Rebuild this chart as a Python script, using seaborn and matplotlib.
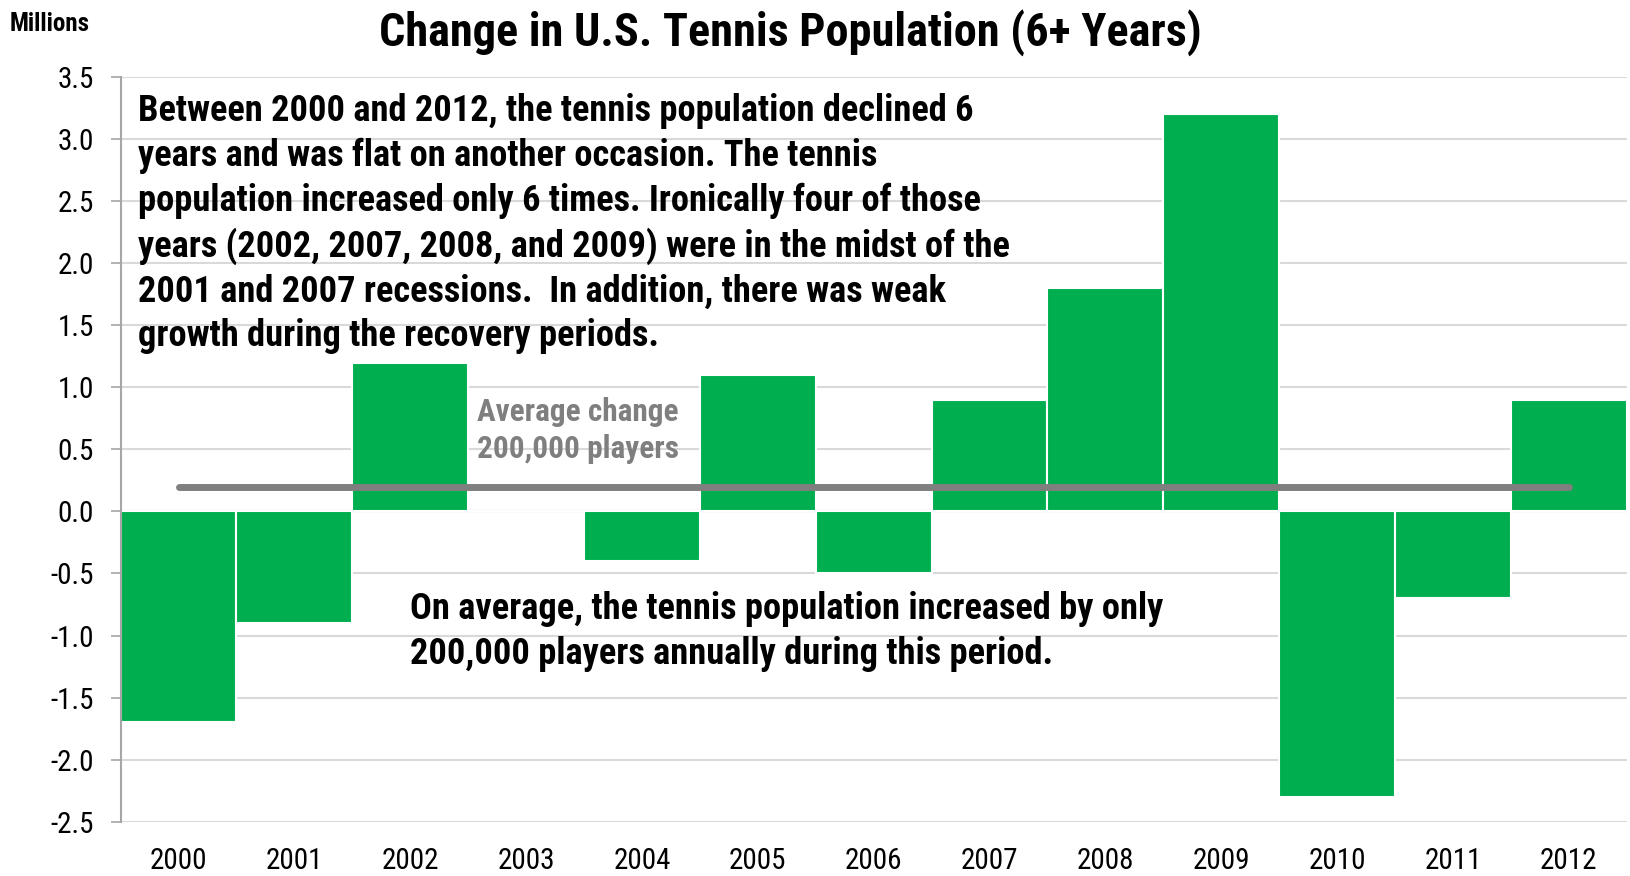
import matplotlib
matplotlib.use('Agg')
import matplotlib.pyplot as plt
import seaborn as sns
import pandas as pd

# ── Data ───────────────────────────────────────────────────────────────────────
years   = ["2000", "2001", "2002", "2003", "2004", "2005", "2006",
           "2007", "2008", "2009", "2010", "2011", "2012"]
changes = [-1.7, -0.9, 1.2, 0.0, -0.4, 1.1, -0.5, 0.9, 1.8, 3.2, -2.3, -0.7, 0.9]
avg_change = 0.2
y_ticks = [3.5, 3.0, 2.5, 2.0, 1.5, 1.0, 0.5, 0.0, -0.5, -1.0, -1.5, -2.0, -2.5]

title = "Change in U.S. Tennis Population (6+ Years)"
note_top = ("Between 2000 and 2012, the tennis population declined 6\n"
            "years and was flat on another occasion. The tennis\n"
            "population increased only 6 times. Ironically four of those\n"
            "years (2002, 2007, 2008, and 2009) were in the midst of the\n"
            "2001 and 2007 recessions.  In addition, there was weak\n"
            "growth during the recovery periods.")
note_bottom = ("On average, the tennis population increased by only\n"
               "200,000 players annually during this period.")
avg_label = "Average change\n200,000 players"

df = pd.DataFrame({"year": years, "change": changes})

# ── Style ──────────────────────────────────────────────────────────────────────
sns.set_style("white")
plt.rcParams['font.family'] = ['Roboto Condensed', 'Liberation Sans', 'DejaVu Sans']
plt.rcParams['text.color'] = 'black'
plt.rcParams['xtick.color'] = 'black'
plt.rcParams['ytick.color'] = 'black'

GREEN = "#00AE4F"
GREY  = "#7F7F7F"

fig = plt.figure(figsize=(16.3, 8.76), dpi=100)
ax = fig.add_axes([0.074, 0.062, 0.924, 0.85])

sns.barplot(data=df, x="year", y="change", color=GREEN, saturation=1,
            width=1.0, edgecolor="white", linewidth=1.5, ax=ax, zorder=2)

# average line
ax.plot([0, len(years) - 1], [avg_change, avg_change], color=GREY, lw=5,
        solid_capstyle="round", zorder=3)

ax.set_xlim(-0.5, len(years) - 0.5)
ax.set_ylim(-2.5, 3.5)
ax.set_yticks(y_ticks)
ax.set_yticklabels([f"{t:.1f}" for t in y_ticks])
ax.yaxis.grid(True, color="#D9D9D9", lw=1.5, zorder=0)
ax.set_axisbelow(True)
ax.axhline(0, color="#A6A6A6", lw=1.5, zorder=1)

ax.set_xlabel("")
ax.set_ylabel("")
ax.tick_params(axis="y", labelsize=21, length=7, width=1.2, color="#A6A6A6",
               labelcolor="black", direction="out", left=True, pad=12)
ax.tick_params(axis="x", labelsize=21, length=0, pad=18, labelcolor="black")
for s in ["top", "right", "bottom"]:
    ax.spines[s].set_visible(False)
ax.spines["left"].set_color("#A6A6A6")
ax.spines["left"].set_linewidth(1.5)

# annotations
ax.text(-0.35, 3.37, note_top, ha="left", va="top", fontsize=26.2,
        fontweight="bold", linespacing=1.3, zorder=4)
ax.text(2.0, -0.64, note_bottom, ha="left", va="top", fontsize=26.2,
        fontweight="bold", linespacing=1.32, zorder=4)
ax.text(3.45, 0.655, avg_label, ha="center", va="center", fontsize=22.5,
        fontweight="bold", color=GREY, linespacing=1.28, zorder=4)

fig.text(0.485, 0.963, title, ha="center", va="center", fontsize=33.3, fontweight="bold")
fig.text(0.006, 0.973, "Millions", ha="left", va="center", fontsize=18, fontweight="bold")

fig.savefig("out.png", dpi=100)
